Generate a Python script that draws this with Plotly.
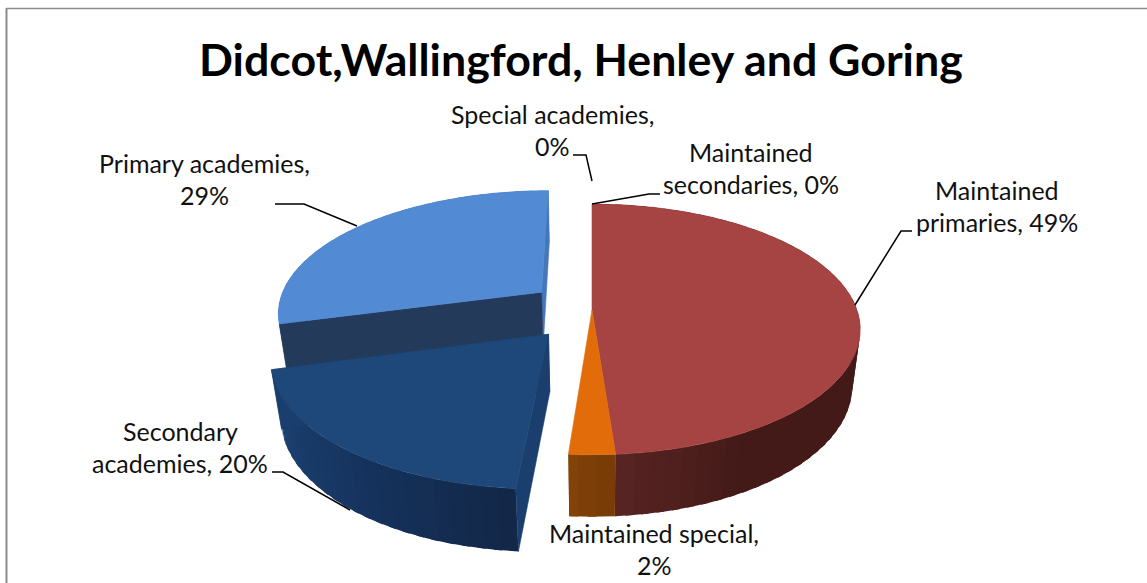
import numpy as np
import plotly.graph_objects as go

# ---------- data ----------
categories = ["Maintained primaries", "Maintained special", "Secondary academies",
              "Primary academies", "Special academies", "Maintained secondaries"]
values = [48.8, 2.4, 19.6, 29.2, 0.0, 0.0]
pull = [0.0, 0.0, 0.25, 0.245, 0.0, 0.0]
top_colors = ["#A54442", "#E36C0A", "#1E4879", "#538AD4", "#1E4879", "#A54442"]
title_text = "Didcot,Wallingford, Henley and Goring"
label_line1 = ["Maintained", "Maintained special,", "Secondary", "Primary academies,", "Special academies,", "Maintained"]
label_line2 = ["primaries, {}%", "{}%", "academies, {}%", "{}%", "{}%", "secondaries, {}%"]
label_x = [997, 654, 180, 204, 552, 751]
label_y = [206, 549, 447, 179, 130, 168]

# ---------- projection (tilted pie with perspective, pixel space) ----------
W, H = 1147, 583
CX, CY, R, B, P, Q, D = 592, 310, 265, 122.4, 0.155, 0.03, 58.5


def proj(X, Y, Z):
    w = 1 + P * Y + Q * Z
    return CX + R * X / w, CY + (-B * Y + D * Z) / w


def hex2rgb(h):
    return np.array([int(h[i:i + 2], 16) for i in (1, 3, 5)], float)


def ramp(t, stops):
    ts = [s[0] for s in stops]
    cs = np.array([hex2rgb(s[1]) for s in stops])
    return "rgb(%d,%d,%d)" % tuple(np.interp(t, ts, cs[:, i]) for i in range(3))


fig = go.Figure()


def poly(xy, color, lw=0.6):
    xs, ys = zip(*xy)
    fig.add_trace(go.Scatter(x=list(xs) + [xs[0]], y=list(ys) + [ys[0]], mode="lines", fill="toself",
                             fillcolor=color, line=dict(color=color, width=lw),
                             hoverinfo="skip", showlegend=False))


# slice angles from the values (clockwise from 12 o'clock)
total = sum(values)
edges = np.concatenate([[0], np.cumsum(values)]) / total * 360

wall_ramps = {
    0: [(90, "#4A1E1B"), (110, "#431A18"), (150, "#451B19"), (177, "#5A2624")],
    1: [(176, "#7A3C06"), (185, "#854509")],
    2: [(184, "#132849"), (215, "#16345F"), (258, "#1E4678")],
    3: [(254, "#4273B5"), (360, "#4273B5")],
}
near_cut = {2: "#1A3F6E", 3: "#4477BA"}   # wall at the slice's last angle / first angle
first_cut = {2: "#1A3F6E", 3: "#243A5A"}


def draw_slice(i):
    a0, a1 = edges[i], edges[i + 1]
    mid = np.radians((a0 + a1) / 2)
    ox, oy = pull[i] * np.sin(mid), pull[i] * np.cos(mid)
    th = np.radians(np.linspace(a0, a1, max(int(a1 - a0) * 2, 12)))
    px = ox + np.sin(th)
    py = oy + np.cos(th)
    # outer wall in overlapping strips, so that its shade can follow the angle
    step = 6
    for k in range(0, len(th) - 1, step):
        j = min(k + step + 3, len(th) - 1)
        tx, ty = px[k:j + 1], py[k:j + 1]
        up = [proj(x, y, 0) for x, y in zip(tx, ty)]
        dn = [proj(x, y, 1) for x, y in zip(tx, ty)]
        poly(up + dn[::-1], ramp(np.degrees(th[k]), wall_ramps[i]), lw=0)
    # cut walls
    if i in (2, 3):
        poly([proj(ox, oy, 0), proj(px[-1], py[-1], 0), proj(px[-1], py[-1], 1), proj(ox, oy, 1)],
             near_cut[i])
        poly([proj(ox, oy, 0), proj(px[0], py[0], 0), proj(px[0], py[0], 1), proj(ox, oy, 1)],
             first_cut[i])
    # top face
    poly([proj(ox, oy, 0)] + [proj(x, y, 0) for x, y in zip(px, py)], top_colors[i])


for i in (3, 2, 0, 1):
    draw_slice(i)

# ---------- text ----------
FONT = "Lato, Carlito, Calibri, sans-serif"
ann = [dict(x=581, y=59, xref="x", yref="y", text="<b>%s</b>" % title_text, showarrow=False,
            font=dict(family=FONT, size=44.7, color="#000000"), xanchor="center", yanchor="middle")]
for i, c in enumerate(categories):
    for txt, dy in ((label_line1[i], -16), (label_line2[i].format(round(values[i])), 16)):
        ann.append(dict(x=label_x[i], y=label_y[i] + dy, xref="x", yref="y", text=txt, showarrow=False,
                        font=dict(family=FONT, size=25, color="#111111"), xanchor="center", yanchor="middle"))

# leader lines and chart frame
leaders = [
    [(912, 231), (901, 231), (855, 305)],
    [(272, 472), (283, 472), (350, 510)],
    [(275, 204), (304, 204), (357, 226)],
    [(573, 155), (586, 155), (592, 181)],
    [(660, 194), (649, 194), (592, 204)],
]
shapes = []
for pts in leaders:
    path = "M " + " L ".join("%g %g" % p for p in pts)
    shapes.append(dict(type="path", path=path, xref="x", yref="y", line=dict(color="#000000", width=1.5)))
shapes.append(dict(type="line", x0=6.5, x1=6.5, y0=8, y1=583, xref="x", yref="y", line=dict(color="#8C8C8C", width=2)))
shapes.append(dict(type="line", x0=6, x1=1147, y0=8.5, y1=8.5, xref="x", yref="y", line=dict(color="#8C8C8C", width=1.5)))

fig.update_layout(
    width=W, height=H, margin=dict(l=0, r=0, t=0, b=0), paper_bgcolor="white", plot_bgcolor="white",
    xaxis=dict(visible=False, range=[0, W], fixedrange=True),
    yaxis=dict(visible=False, range=[H, 0], fixedrange=True),
    annotations=ann, shapes=shapes, showlegend=False,
)
fig.write_html("out.html", config=dict(displayModeBar=False),
               post_script="document.body.style.margin='0';document.body.style.overflow='hidden';")
